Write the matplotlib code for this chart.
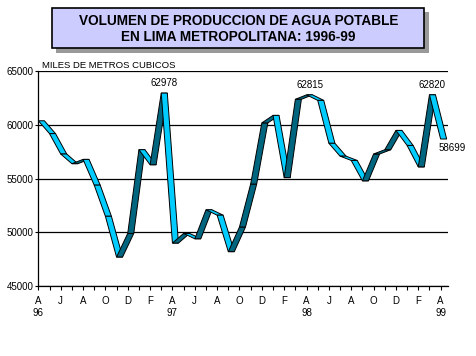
import numpy as np
import matplotlib
matplotlib.use('Agg')
import matplotlib.pyplot as plt
from matplotlib.patches import Polygon, Rectangle

plt.rcParams['font.family'] = ['Liberation Sans', 'DejaVu Sans']

# monthly production, april 1996 .. april 1999 (thousand m3)
volumen = [60400, 59200, 57300, 56400, 56800, 54400, 51500, 47700, 49900,
           57700, 56300, 62978, 49000, 49900, 49400, 52100, 51600, 48200,
           50500, 54500, 60200, 60900, 55100, 62400, 62815, 62300, 58300,
           57100, 56700, 54800, 57300, 57700, 59500, 58100, 56100, 62820,
           58699]
mes_letras = ['A', 'M', 'J', 'J', 'A', 'S', 'O', 'N', 'D', 'J', 'F', 'M']
anios = {0: '96', 12: '97', 24: '98', 36: '99'}
etiquetas = {11: '62978', 24: '62815', 35: '62820'}

W, H = 477, 356
fig = plt.figure(figsize=(W / 100, H / 100), dpi=100)

def px(x0, y0, x1, y1):
    return [x0 / W, 1 - y1 / H, (x1 - x0) / W, (y1 - y0) / H]

# title box with shadow
fig.patches.append(Rectangle((56.5 / W, 1 - 52.5 / H), 372 / W, 40 / H,
                             transform=fig.transFigure, facecolor='#999999',
                             edgecolor='none', zorder=0))
fig.patches.append(Rectangle((52.3 / W, 1 - 48.3 / H), 372 / W, 40 / H,
                             transform=fig.transFigure, facecolor='#CCCCFF',
                             edgecolor='black', lw=1.2, zorder=1))
fig.text(238.5 / W, 1 - 21 / H, 'VOLUMEN DE PRODUCCION DE AGUA POTABLE',
         ha='center', va='center', fontsize=9.8, fontweight='bold')
fig.text(238.5 / W, 1 - 36.7 / H, 'EN LIMA METROPOLITANA: 1996-99',
         ha='center', va='center', fontsize=9.8, fontweight='bold')

ax = fig.add_axes(px(38, 71.4, 448, 286))
n = len(volumen)
x = np.arange(n)
d = 0.54  # ribbon depth (months)
for i in range(n - 1):
    y0, y1 = volumen[i], volumen[i + 1]
    col = '#00CCFF' if y1 < y0 else '#006680'
    poly = Polygon([(x[i], y0), (x[i + 1], y1), (x[i + 1] + d, y1), (x[i] + d, y0)],
                   closed=True, facecolor=col, edgecolor='black', lw=0.7, zorder=3)
    ax.add_patch(poly)

for i, t in etiquetas.items():
    ax.text(x[i] + d / 2, volumen[i] + 450, t, ha='center', va='bottom', fontsize=7)
ax.text(x[-1] + 1.0, volumen[-1] - 400, '58699', ha='center', va='top', fontsize=7)

ax.set_xlim(-0.03, 36.66)
ax.set_ylim(45000, 65000)
ax.set_yticks([45000, 50000, 55000, 60000, 65000])
ax.set_yticklabels(['45000', '50000', '55000', '60000', '65000'])
ax.grid(axis='y', color='black', lw=0.9)
ax.set_axisbelow(True)
ax.set_xticks(x)
labels = []
for i in range(n):
    if i % 2 == 0:
        s = mes_letras[i % 12]
        if i in anios:
            s += '\n' + anios[i]
        labels.append(s)
    else:
        labels.append('')
ax.set_xticklabels(labels, linespacing=1.3)
ax.tick_params(axis='x', length=3, width=0.8, pad=4, labelsize=7)
ax.tick_params(axis='y', length=2, width=0.8, pad=1, labelsize=7)
for s in ['top', 'right']:
    ax.spines[s].set_visible(False)
for s in ['left', 'bottom']:
    ax.spines[s].set_linewidth(0.9)

fig.text(42.5 / W, 1 - 66 / H, 'MILES DE METROS CUBICOS',
         ha='left', va='center', fontsize=6.8)

fig.savefig('out.png', dpi=100)
